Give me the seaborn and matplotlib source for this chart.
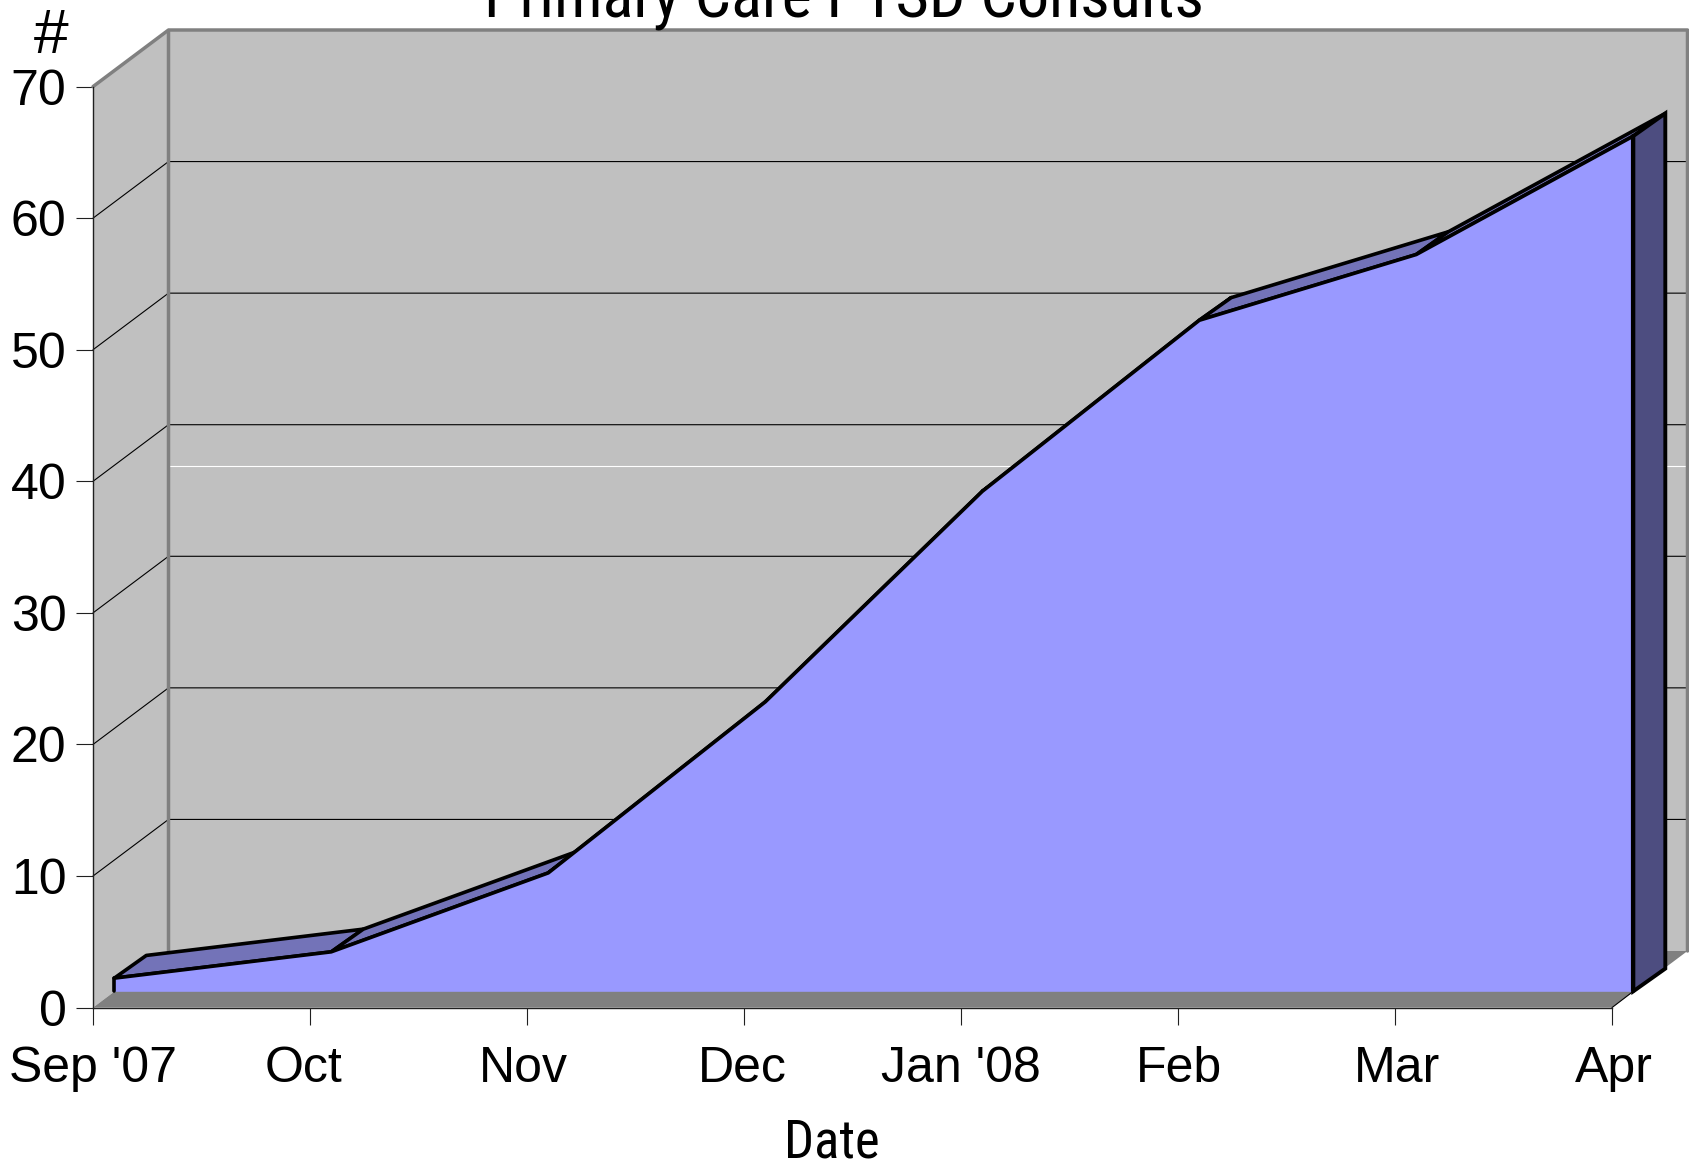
import numpy as np
import matplotlib
matplotlib.use("Agg")
import matplotlib.pyplot as plt
from matplotlib.transforms import ScaledTranslation
import seaborn as sns

months = ["Sep '07", "Oct", "Nov", "Dec", "Jan '08", "Feb", "Mar", "Apr"]
consults = [1, 3, 9, 22, 38, 51, 56, 65]
y_ticks = [0, 10, 20, 30, 40, 50, 60, 70]
title = "Primary Care PTSD Consults"

sns.set_theme(style="white")
plt.rcParams['font.family'] = ['Liberation Sans', 'DejaVu Sans']
narrow = ['Roboto Condensed', 'Liberation Sans']

W, H = 1690, 1166
fig = plt.figure(figsize=(W / 100, H / 100), dpi=100)
ax = fig.add_axes([93.0 / W, 1 - 1007.6 / H, 1519 / W, 921.0 / H])
ax.set_xlim(0, 7)
ax.set_ylim(0, 70)
ax.patch.set_visible(False)

# depth of the fake 3d box, in data units
px_x = 7 / 1519
px_y = 70 / 921.0
dx, dy = 75.5 * px_x, 56.6 * px_y
fx, fy = 21.3 * px_x, 16.3 * px_y
bx, by = 53.3 * px_x, 39 * px_y

idx = np.arange(len(months))
vals = np.array(consults)
wall = "#c0c0c0"
edge = "#808080"

# walls and floor
ax.fill([0, dx, dx, 0], [0, dy, 70 + dy, 70], color=wall, lw=0, clip_on=False, zorder=1)
ax.fill([dx, 7 + dx, 7 + dx, dx], [dy, dy, 70 + dy, 70 + dy], color=wall, lw=0, clip_on=False, zorder=1)
ax.fill([0, 7, 7 + dx, dx], [0, 0, dy, dy], color=edge, lw=0, clip_on=False, zorder=1)

for t in y_ticks[1:-1]:
    ax.plot([0, dx, 7 + dx], [t, t + dy, t + dy], color="black", lw=0.8, clip_on=False, zorder=1.5)
ax.plot([dx, 7 + dx], [41.2, 41.2], color="white", lw=0.8, clip_on=False, zorder=1.5)
ax.plot([0, dx, 7 + dx, 7 + dx], [70, 70 + dy, 70 + dy, dy], color=edge, lw=2.5, clip_on=False, zorder=1.6)
ax.plot([dx, dx], [dy, 70 + dy], color=edge, lw=2.5, clip_on=False, zorder=1.6)
ax.plot([7, 7 + fx], [0, fy], color="black", lw=0.8, clip_on=False, zorder=1.6)

# top surface of each segment
for i in range(len(idx) - 1):
    xs = [idx[i] + fx, idx[i + 1] + fx, idx[i + 1] + bx, idx[i] + bx]
    ys = [vals[i] + fy, vals[i + 1] + fy, vals[i + 1] + by, vals[i] + by]
    ax.fill(xs, ys, facecolor="#7373b8", edgecolor="black", lw=2.6, joinstyle="round", clip_on=False, zorder=2)

# right side
ax.fill([7 + fx, 7 + bx, 7 + bx, 7 + fx], [vals[-1] + fy, vals[-1] + by, by, fy],
        facecolor="#4d4d80", edgecolor="black", lw=2.8, clip_on=False, zorder=2.2)

# front face
ax.fill_between(idx + fx, fy, vals + fy, color="#9999ff", lw=0, clip_on=False, zorder=2.4)
sns.lineplot(x=idx + fx, y=vals + fy, color="black", lw=2.6, ax=ax, clip_on=False, zorder=2.6)
ax.plot([fx, fx], [fy, vals[0] + fy], color="black", lw=2.6, clip_on=False, zorder=2.6)
ax.plot([7 + fx, 7 + fx], [fy, vals[-1] + fy], color="black", lw=3.0, clip_on=False, zorder=2.6)

# axes
sns.despine(ax=ax)
for s in ["left", "bottom"]:
    ax.spines[s].set_linewidth(1.0)
    ax.spines[s].set_color("#202020")
    ax.spines[s].set_zorder(3)
ax.set_xticks(idx, months)
ax.set_yticks(y_ticks)
ax.tick_params(axis="x", bottom=True, length=12, width=0.8, color="#202020", pad=16, labelsize=36, labelcolor="black")
ax.tick_params(axis="y", left=True, length=12, width=0.8, color="#202020", pad=7, labelsize=36, labelcolor="black")

# the month labels are not quite centred under their ticks
nudge = [0, -6.5, -4, -2, 0, 1, 2, 2]
for lab, n in zip(ax.get_xticklabels(), nudge):
    lab.set_transform(lab.get_transform() + ScaledTranslation(n / 100, 0, fig.dpi_scale_trans))

fig.text(844 / W, 1 - 17 / H, title, family=narrow, fontsize=46.4, ha="center", va="baseline", color="black")
fig.text(832 / W, 1 - 1158 / H, "Date", family=narrow, fontsize=38, ha="center", va="baseline", color="black")
fig.text(50 / W, 1 - 53 / H, "#", style="italic", fontsize=45, ha="center", va="baseline", color="black")

fig.savefig("out.png", dpi=100)
